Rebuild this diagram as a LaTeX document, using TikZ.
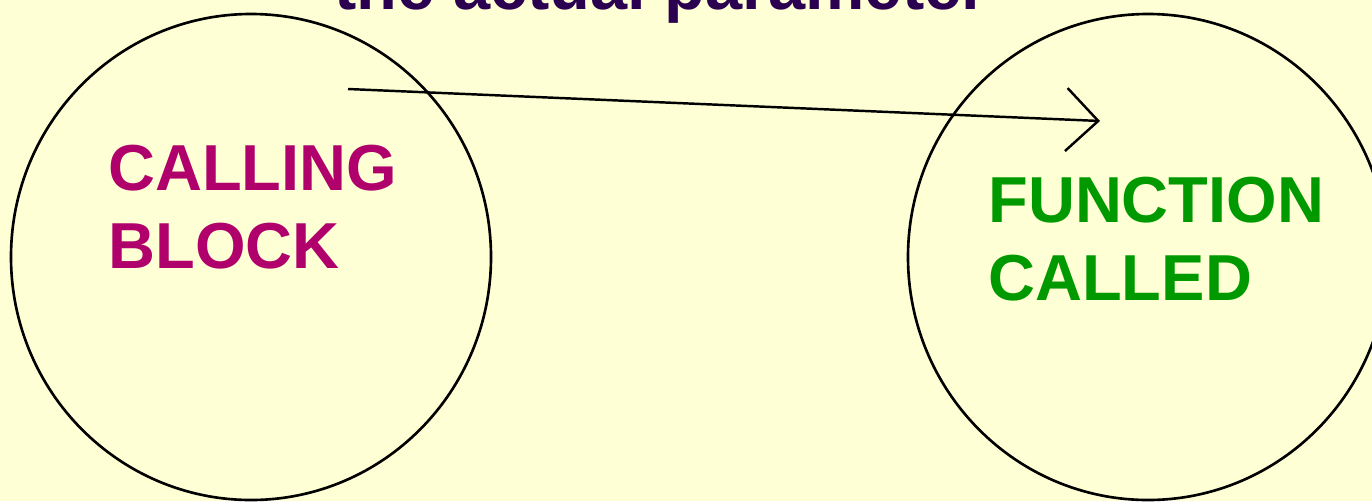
\documentclass[tikz,border=0pt]{standalone}
\usepackage{fontspec}
\setmainfont{Liberation Sans}
\usepackage{xcolor}
\usetikzlibrary{arrows.meta}
\definecolor{paper}{RGB}{255,255,213}
\definecolor{callcol}{RGB}{176,0,107}
\definecolor{funcol}{RGB}{0,153,0}
\definecolor{titlecol}{RGB}{43,0,80}
\tikzset{
  blocktext/.style={anchor=north west,inner sep=0pt,align=left,
    font=\bfseries\fontsize{37}{44}\selectfont},
  ring/.style={line width=1.5pt,black},
}
\begin{document}
\begin{tikzpicture}[x=0.02cm,y=-0.02cm]
\useasboundingbox[fill=paper](0,0)rectangle(1372,501);
\begin{scope}
\clip(0,0)rectangle(1372,501);
\draw[ring](251,257)ellipse[x radius=240,y radius=243];
\draw[ring](1148,257)ellipse[x radius=240,y radius=243];
\node(title)[anchor=base,inner sep=0pt,text=titlecol,font=\bfseries\fontsize{38}{44}\selectfont]at(661,9){the actual parameter};
\end{scope}
\node(calling)[blocktext,text=callcol]at(108,145){CALLING\\BLOCK};
\node(called)[blocktext,text=funcol]at(988,177){FUNCTION\\CALLED};
\coordinate(from)at(348,89);
\coordinate(to)at(1100,121);
\draw[line width=1.4pt,-{Straight Barb[length=0.64cm,width=1.26cm]}](from)--(to);
\end{tikzpicture}
\end{document}
